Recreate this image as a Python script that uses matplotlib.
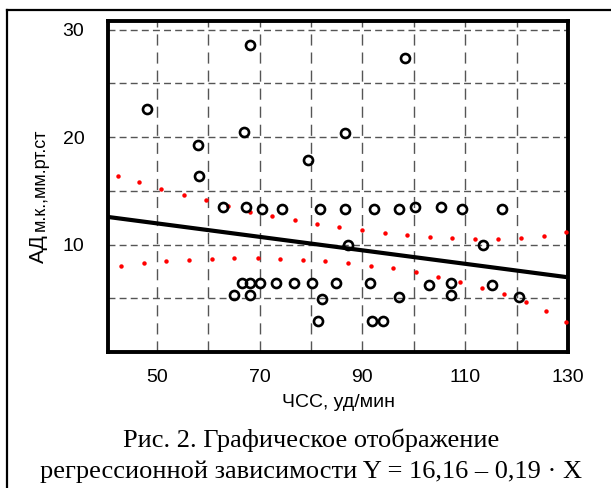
import matplotlib.pyplot as plt
from matplotlib.lines import Line2D
from matplotlib.ticker import MultipleLocator

# observed points (ЧСС, АД)
hr = [68.1, 48.0, 66.9, 58.1, 79.4, 58.2, 86.6, 98.3,
      62.8, 67.3, 70.4, 74.3, 81.7, 86.6, 92.3, 97.1, 100.3, 105.2, 109.3, 117.2,
      87.1, 113.4,
      66.6, 68.2, 70.1, 73.2, 76.7, 80.2, 84.9, 91.4, 102.9, 107.3, 115.3,
      65.1, 68.2, 82.1, 97.1, 107.3, 120.4,
      81.3, 91.8, 94.1]
bp = [28.6, 22.6, 20.5, 19.3, 17.9, 16.4, 20.4, 27.4,
      13.46, 13.46, 13.27, 13.27, 13.27, 13.27, 13.27, 13.27, 13.46, 13.46, 13.27, 13.27,
      9.98, 9.95,
      6.4, 6.4, 6.4, 6.4, 6.4, 6.4, 6.4, 6.4, 6.22, 6.4, 6.22,
      5.26, 5.26, 4.94, 5.13, 5.28, 5.16,
      2.89, 2.89, 2.89]

# regression line end points
line_x = [40.6, 129.7]
line_y = [12.56, 6.97]

# red dotted bands
upper_x = [42.4, 46.6, 50.8, 55.2, 59.5, 63.9, 68.2, 72.5, 76.9, 81.2, 85.5,
           90.0, 94.3, 98.7, 103.1, 107.5, 111.9, 116.4, 120.8, 125.3, 129.6]
upper_y = [16.4, 15.8, 15.2, 14.6, 14.1, 13.55, 13.06, 12.69, 12.28, 11.94, 11.6,
           11.32, 11.07, 10.85, 10.7, 10.57, 10.51, 10.51, 10.57, 10.82, 11.13]
lower_x = [43.0, 47.5, 51.8, 56.2, 60.7, 65.1, 69.6, 74.0, 78.4, 82.8, 87.1,
           91.6, 96.0, 100.4, 104.8, 109.0, 113.3, 117.6, 121.8, 125.8, 129.6]
lower_y = [7.99, 8.27, 8.46, 8.58, 8.67, 8.74, 8.74, 8.67, 8.58, 8.46, 8.27,
           8.02, 7.77, 7.43, 7.0, 6.56, 6.0, 5.38, 4.66, 3.8, 2.77]

x_ticks = [50, 70, 90, 110, 130]
y_ticks = [10, 20, 30]

W, H = 611, 488
fig = plt.figure(figsize=(W / 100, H / 100), dpi=100)
fig.patch.set_facecolor('white')
ax = fig.add_axes([108 / W, 1 - 352 / H, 460 / W, 331 / H])

ax.set_xlim(40.5, 130)
ax.set_ylim(0, 30.8)
ax.set_xticks(x_ticks)
ax.set_yticks(y_ticks)
ax.xaxis.set_minor_locator(MultipleLocator(10))
ax.yaxis.set_minor_locator(MultipleLocator(5))
ax.tick_params(which='both', length=0)
ax.tick_params(axis='x', pad=12, labelsize=14)
ax.tick_params(axis='y', pad=17, labelsize=14)
for lab in ax.get_xticklabels() + ax.get_yticklabels():
    lab.set_family('Liberation Sans')

ax.grid(True, which='both', axis='x', color='#555555', lw=1, linestyle=(0, (8, 5)))
ax.grid(True, which='both', axis='y', color='#555555', lw=1, linestyle=(0, (5, 3)))
ax.set_axisbelow(True)

for s in ax.spines.values():
    s.set_linewidth(2.8)
    s.set_color('black')

ax.plot(upper_x, upper_y, 'o', color='red', ms=3.2, mec='none', zorder=3)
ax.plot(lower_x, lower_y, 'o', color='red', ms=3.2, mec='none', zorder=3)
ax.plot(line_x, line_y, color='black', lw=3, solid_capstyle='butt', zorder=4)
ax.plot(hr, bp, 'o', mfc='none', mec='black', ms=6.5, mew=1.9, zorder=5)

ax.set_xlabel('ЧСС, уд/мин', family='Liberation Sans', fontsize=14, labelpad=6)

# y label: big "АД" + smaller units
px = fig.transFigure.inverted()
x0, y0 = px.transform((38, H - 263))
fig.text(x0, y0, 'АД', rotation=90, ha='center', va='bottom',
         family='Liberation Sans', fontsize=15)
x1, y1 = px.transform((40, H - 231))
fig.text(x1, y1, 'м.к.,мм.рт.ст', rotation=90, ha='center', va='bottom',
         family='Liberation Sans', fontsize=13)

# caption
cx, cy = px.transform((311, H - 440))
fig.text(cx, cy, 'Рис. 2. Графическое отображение', ha='center', va='center',
         family='Liberation Serif', fontsize=19)
cx, cy = px.transform((311, H - 472))
fig.text(cx, cy, 'регрессионной зависимости Y = 16,16 – 0,19 · X', ha='center',
         va='center', family='Liberation Serif', fontsize=19)

# frame lines of the cell (top and left)
a, b = px.transform((7, H - 10))
fig.add_artist(Line2D([a, 1], [b, b], color='black', lw=1.6, transform=fig.transFigure))
fig.add_artist(Line2D([a, a], [0, b], color='black', lw=1.6, transform=fig.transFigure))

fig.savefig('out.png', dpi=100)
